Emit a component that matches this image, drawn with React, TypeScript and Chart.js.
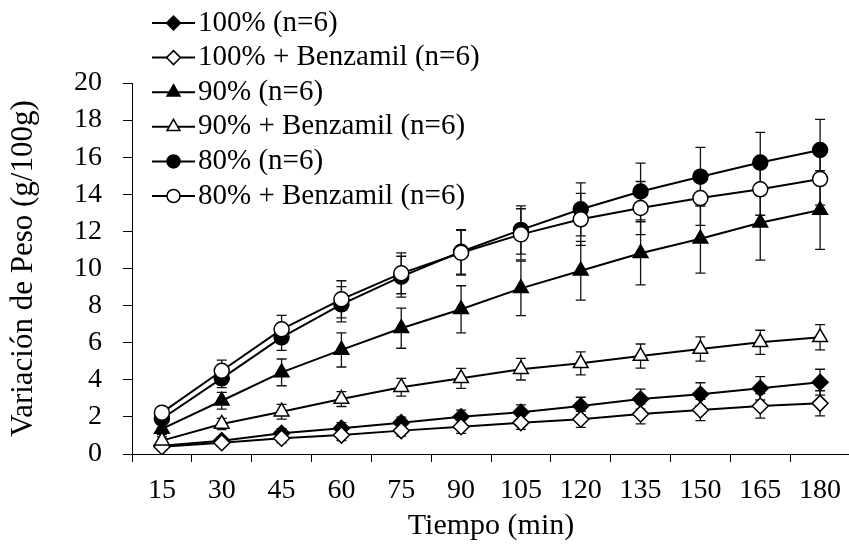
import { useEffect, useRef } from 'react';
import { Chart, registerables } from 'chart.js';
import { drawPoint } from 'chart.js/helpers';

Chart.register(...registerables);

const categories = ['15', '30', '45', '60', '75', '90', '105', '120', '135', '150', '165', '180'];

const seriesLabels = [
  '100% (n=6)',
  '100% + Benzamil (n=6)',
  '90% (n=6)',
  '90% + Benzamil (n=6)',
  '80% (n=6)',
  '80% + Benzamil (n=6)',
];

const v100 = [0.45, 0.72, 1.12, 1.39, 1.69, 2.01, 2.25, 2.59, 2.96, 3.22, 3.54, 3.87];
const sd100 = [0.15, 0.2, 0.25, 0.3, 0.3, 0.35, 0.4, 0.47, 0.54, 0.62, 0.63, 0.7];

const v100b = [0.39, 0.61, 0.85, 1.02, 1.26, 1.47, 1.69, 1.87, 2.16, 2.37, 2.59, 2.73];
const sd100b = [0.15, 0.2, 0.25, 0.3, 0.3, 0.36, 0.36, 0.43, 0.54, 0.57, 0.66, 0.68];

const v90 = [1.35, 2.87, 4.4, 5.61, 6.78, 7.8, 8.93, 9.88, 10.82, 11.6, 12.47, 13.15];
const sd90 = [0.3, 0.45, 0.72, 0.92, 1.08, 1.27, 1.47, 1.58, 1.7, 1.85, 2.02, 2.12];

const v90b = [0.72, 1.62, 2.28, 2.96, 3.6, 4.08, 4.57, 4.89, 5.28, 5.66, 6.02, 6.29];
const sd90b = [0.2, 0.3, 0.4, 0.4, 0.48, 0.54, 0.58, 0.62, 0.65, 0.65, 0.65, 0.68];

const v80 = [1.9, 4.08, 6.29, 8.07, 9.56, 10.9, 12.08, 13.19, 14.15, 14.95, 15.71, 16.39];
const sd80 = [0.3, 0.5, 0.7, 0.95, 1.1, 1.2, 1.3, 1.43, 1.53, 1.58, 1.63, 1.65];

const v80b = [2.23, 4.49, 6.72, 8.34, 9.74, 10.85, 11.84, 12.65, 13.26, 13.8, 14.27, 14.82];
const sd80b = [0.3, 0.57, 0.75, 1.0, 1.1, 1.2, 1.38, 1.4, 1.43, 1.47, 1.4, 1.4];

const yTicks = [0, 2, 4, 6, 8, 10, 12, 14, 16, 18, 20];

const values = [v100, v100b, v90, v90b, v80, v80b];
const errors = [sd100, sd100b, sd90, sd90b, sd80, sd80b];
const styles = ['rectRot', 'rectRot', 'triangle', 'triangle', 'circle', 'circle'];
const fills = ['#000', '#fff', '#000', '#fff', '#000', '#fff'];
const radii = [8, 8, 8.5, 8.5, 7.5, 7.5];

const FONT = "'Liberation Serif', 'Times New Roman', serif";

const errorBarPlugin = {
  id: 'errorBars',
  beforeDatasetsDraw(chart: any) {
    const ctx = chart.ctx;
    const ys = chart.scales.y;
    ctx.save();
    ctx.strokeStyle = '#111';
    ctx.lineWidth = 1.3;
    chart.data.datasets.forEach((ds: any, i: number) => {
      const meta = chart.getDatasetMeta(i);
      const sd = errors[i];
      meta.data.forEach((pt: any, j: number) => {
        const v = ds.data[j];
        const e = sd[j];
        const x = pt.x;
        const yt = ys.getPixelForValue(v + e);
        const yb = ys.getPixelForValue(v - e);
        ctx.beginPath();
        ctx.moveTo(x, yt);
        ctx.lineTo(x, yb);
        ctx.moveTo(x - 5, yt);
        ctx.lineTo(x + 5, yt);
        ctx.moveTo(x - 5, yb);
        ctx.lineTo(x + 5, yb);
        ctx.stroke();
      });
    });
    ctx.restore();
  },
};

const legendPlugin = {
  id: 'customLegend',
  afterDraw(chart: any) {
    const ctx = chart.ctx;
    ctx.save();
    chart.data.datasets.forEach((ds: any, i: number) => {
      const y = 23 + i * 34.6;
      ctx.strokeStyle = '#000';
      ctx.lineWidth = 2;
      ctx.beginPath();
      ctx.moveTo(152, y);
      ctx.lineTo(195, y);
      ctx.stroke();
      ctx.fillStyle = ds.pointBackgroundColor;
      ctx.strokeStyle = '#000';
      ctx.lineWidth = ds.pointBorderWidth;
      drawPoint(ctx, { pointStyle: ds.pointStyle, rotation: 0, radius: ds.pointRadius - 1, borderWidth: ds.pointBorderWidth }, 173.5, y);
      ctx.fillStyle = '#000';
      ctx.font = `29px ${FONT}`;
      ctx.textBaseline = 'middle';
      ctx.textAlign = 'left';
      ctx.fillText(ds.label, 198, y);
    });
    ctx.restore();
  },
};

export default function App() {
  const ref = useRef<HTMLCanvasElement | null>(null);
  useEffect(() => {
    if (!ref.current) return;
    Chart.defaults.color = '#000';
    const chart = new Chart(ref.current, {
      type: 'line',
      data: {
        labels: categories,
        datasets: values.map((vals, i) => ({
          label: seriesLabels[i],
          data: vals,
          borderColor: '#000',
          borderWidth: 2,
          pointStyle: styles[i] as any,
          pointRadius: radii[i],
          pointBackgroundColor: fills[i],
          pointBorderColor: '#000',
          pointBorderWidth: 1.5,
          tension: 0,
          fill: false,
          order: 5 - i,
        })),
      },
      options: {
        animation: false,
        responsive: false,
        layout: { padding: { top: 83, right: 5, left: 0, bottom: 0 } },
        plugins: { legend: { display: false }, tooltip: { enabled: false } },
        scales: {
          x: {
            type: 'category',
            offset: true,
            grid: { display: true, offset: true, drawOnChartArea: false, drawTicks: true, tickLength: 8, color: '#000' },
            border: { display: true, color: '#000', width: 1 },
            ticks: { font: { family: FONT, size: 28 }, color: '#000', padding: 12, maxRotation: 0, autoSkip: false },
            title: { display: true, text: 'Tiempo (min)', font: { family: FONT, size: 30 }, color: '#000', padding: { top: 0, bottom: 1 } },
            afterFit: (scale: any) => { scale.height = 91; },
          },
          y: {
            min: 0,
            max: 20,
            afterBuildTicks: (scale: any) => { scale.ticks = yTicks.map((v) => ({ value: v })); },
            grid: { display: true, drawOnChartArea: false, drawTicks: true, tickLength: 9, color: '#000' },
            border: { display: true, color: '#000', width: 1 },
            ticks: { font: { family: FONT, size: 28 }, color: '#000', padding: 21 },
            title: { display: true, text: 'Variación de Peso (g/100g)', font: { family: FONT, size: 31 }, color: '#000', padding: { top: 5, bottom: 0 } },
            afterFit: (scale: any) => { scale.width = 132; },
          },
        },
      },
      plugins: [errorBarPlugin, legendPlugin],
    });
    return () => chart.destroy();
  }, []);
  return (
    <div style={{ position: 'fixed', left: 0, top: 0, width: 849, height: 545, overflow: 'hidden', background: '#fff' }}>
      <canvas ref={ref} width={860} height={545} style={{ display: 'block' }} />
    </div>
  );
}
